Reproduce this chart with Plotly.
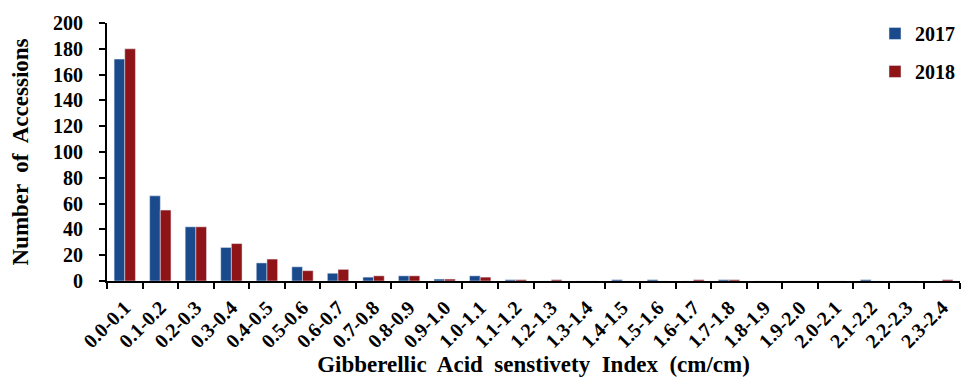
import plotly.graph_objects as go

categories = ["0.0-0.1", "0.1-0.2", "0.2-0.3", "0.3-0.4", "0.4-0.5", "0.5-0.6",
              "0.6-0.7", "0.7-0.8", "0.8-0.9", "0.9-1.0", "1.0-1.1", "1.1-1.2",
              "1.2-1.3", "1.3-1.4", "1.4-1.5", "1.5-1.6", "1.6-1.7", "1.7-1.8",
              "1.8-1.9", "1.9-2.0", "2.0-2.1", "2.1-2.2", "2.2-2.3", "2.3-2.4"]
values_2017 = [172, 66, 42, 26, 14, 11, 6, 3, 4, 1.5, 4, 1, 0, 0, 1, 1, 0, 1, 0, 0, 0, 1, 0, 0]
values_2018 = [180, 55, 42, 29, 17, 8, 9, 4, 4, 1.5, 3, 1, 1, 0, 0, 0, 1, 1, 0, 0, 0, 0, 0, 1]

FONT = "Liberation Serif"
BLUE = "#1a4a8c"
RED = "#8e1418"

fig = go.Figure()
fig.add_trace(go.Bar(x=categories, y=values_2017, name="2017", marker_color=BLUE,
                     legendgroup="a"))
fig.add_trace(go.Bar(x=categories, y=values_2018, name="2018", marker_color=RED,
                     legendgroup="b"))

fig.update_layout(
    width=963, height=385,
    margin=dict(l=107, r=3, t=23, b=104),
    paper_bgcolor="white", plot_bgcolor="white",
    barmode="group", bargap=0.4, bargroupgap=0,
    font=dict(family=FONT, color="black"),
    legend=dict(x=1.0, y=1.035, xanchor="right", yanchor="top",
                font=dict(family=FONT, size=20, color="black", weight="bold"),
                traceorder="grouped", tracegroupgap=9,
                bgcolor="rgba(0,0,0,0)"),
    xaxis=dict(
        type="category", tickson="boundaries", ticks="outside", ticklen=6,
        tickwidth=2, tickcolor="black", showline=True, linecolor="black",
        linewidth=2, tickangle=-45, ticklabelstandoff=5,
        tickfont=dict(family=FONT, size=20, weight="bold"),
        title=dict(text="<b>Gibberellic  Acid  senstivety  Index  (cm/cm)</b>",
                   font=dict(family=FONT, size=23), standoff=0),
        showgrid=False,
    ),
    yaxis=dict(
        range=[0, 200], dtick=20, ticks="outside", ticklen=6, tickwidth=2,
        tickcolor="black", showline=True, linecolor="black", linewidth=2,
        showgrid=False, zeroline=False, ticklabelstandoff=12,
        tickfont=dict(family=FONT, size=20, weight="bold"),
        title=dict(text="<b>Number  of  Accessions</b>",
                   font=dict(family=FONT, size=23), standoff=18),
    ),
)

fig.write_html("out.html")
